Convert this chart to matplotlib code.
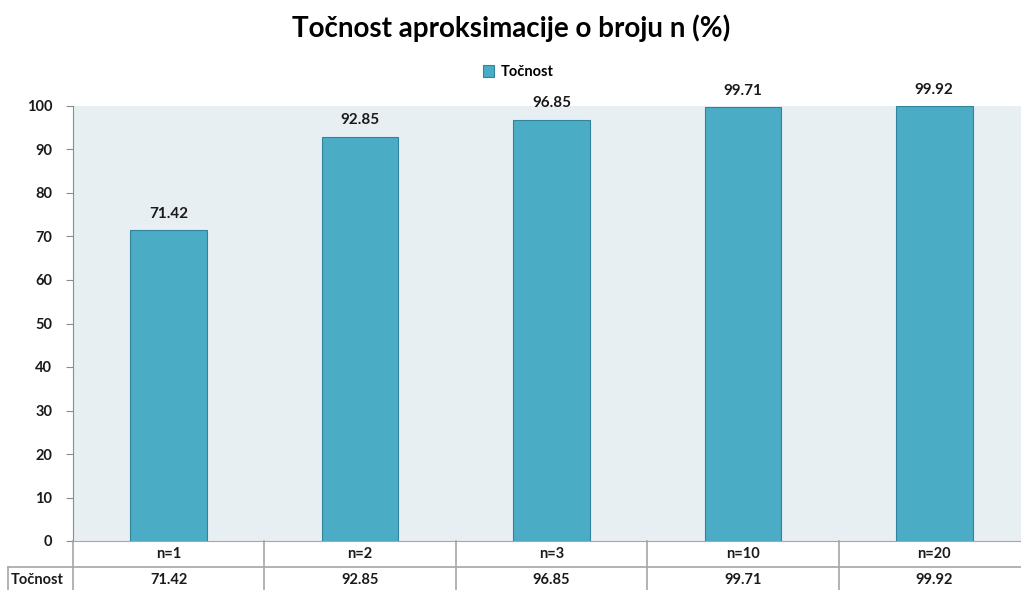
import matplotlib.pyplot as plt
import numpy as np

plt.rcParams['font.family'] = ['Lato', 'DejaVu Sans']

categories = ['n=1', 'n=2', 'n=3', 'n=10', 'n=20']
tocnost = [71.42, 92.85, 96.85, 99.71, 99.92]
series_name = 'Točnost'
title = 'Točnost aproksimacije o broju n (%)'

W, H = 1021, 590
fig = plt.figure(figsize=(W / 100, H / 100), dpi=100)
# plot area runs past the right edge, like the reference screenshot
left, right, top, bottom = 73, 1030, 106, 541
ax = fig.add_axes([left / W, 1 - bottom / H, (right - left) / W, (bottom - top) / H])
ax.set_facecolor('#E8EFF3')

x = np.arange(len(categories))
bars = ax.bar(x, tocnost, width=0.4, color='#4BACC6', edgecolor='#31849B',
              linewidth=0.8, label=series_name, zorder=2)
for b, v in zip(bars, tocnost):
    ax.annotate(f'{v:.2f}', (b.get_x() + b.get_width() / 2, v), xytext=(0, 7),
                textcoords='offset points', ha='center', va='bottom',
                fontsize=11, fontweight='bold', color='#1a1a1a')

ax.set_xlim(-0.5, len(categories) - 0.5)
ax.set_ylim(0, 100)
ax.set_yticks(range(0, 101, 10))
ax.set_xticks([])
for s in ['top', 'right']:
    ax.spines[s].set_visible(False)
ax.spines['left'].set_color('#8C8C8C')
ax.spines['bottom'].set_color('#A6A6A6')
ax.tick_params(axis='y', length=5, color='#8C8C8C', labelsize=10.5, pad=10,
               labelcolor='#1a1a1a')
for t in ax.get_yticklabels():
    t.set_fontweight('bold')

# data table below the plot
grid = '#A6A6A6'
row_h = 26 / (bottom - top)
trans = ax.get_xaxis_transform()
for i in range(len(categories) + 1):
    ax.plot([i - 0.5, i - 0.5], [0, -2.2 * row_h], transform=trans, color=grid,
            lw=1.2, clip_on=False)
ax.plot([-0.5 - 65 / 191.5, len(categories) - 0.5], [-row_h, -row_h], transform=trans,
        color=grid, lw=1.2, clip_on=False)
ax.plot([-0.5 - 65 / 191.5] * 2, [-row_h, -2.2 * row_h], transform=trans, color=grid,
        lw=1.2, clip_on=False)
for i, (c, v) in enumerate(zip(categories, tocnost)):
    ax.text(i, -0.5 * row_h, c, transform=trans, ha='center', va='center',
            fontsize=10.5, fontweight='bold', color='#1a1a1a')
    ax.text(i, -1.5 * row_h, f'{v:.2f}', transform=trans, ha='center', va='center',
            fontsize=10.5, fontweight='bold', color='#1a1a1a')
ax.text(-0.5 - 62 / 191.5, -1.5 * row_h, series_name, transform=trans, ha='left',
        va='center', fontsize=10.5, fontweight='bold', color='#1a1a1a')

fig.legend(loc='center', bbox_to_anchor=(518 / W, 1 - 72 / H), frameon=False,
           prop={'weight': 'bold', 'size': 10.5}, handlelength=0.8,
           handleheight=0.8, handletextpad=0.4)
fig.text(511 / W, 1 - 28 / H, title, ha='center', va='center', fontsize=20,
         fontweight='bold', color='#000000')

fig.savefig('out.png', dpi=100)
